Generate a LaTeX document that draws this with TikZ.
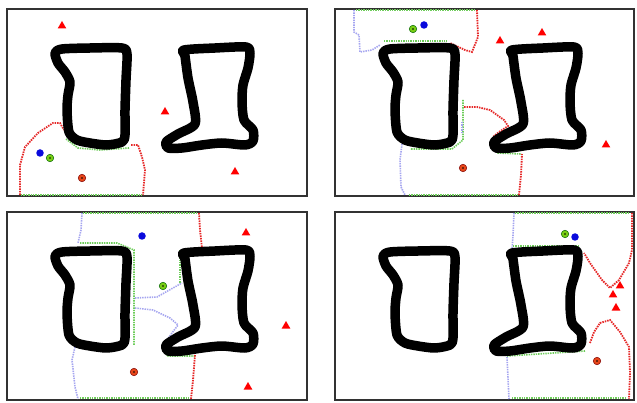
\documentclass[tikz,border=0pt]{standalone}
\usetikzlibrary{shapes.geometric}
\definecolor{framec}{RGB}{50,50,50}
\definecolor{bdred}{RGB}{230,40,40}
\definecolor{bdgreen}{RGB}{110,205,90}
\definecolor{bdblue}{RGB}{165,165,240}
\definecolor{dotgreen}{RGB}{120,205,20}
\definecolor{dotorange}{RGB}{230,70,25}
\definecolor{dotblue}{RGB}{10,10,220}
\tikzset{
  panel/.style={draw=framec, line width=1.3pt},
  obst/.style={draw=black, line width=9.5pt, line join=round, line cap=round},
  redb/.style={draw=bdred, line width=1.8pt, dash pattern=on 1.5pt off 1pt},
  greenb/.style={draw=bdgreen, line width=1.6pt, dash pattern=on 1.4pt off 1pt},
  blueb/.style={draw=bdblue, line width=1.6pt, dash pattern=on 1.4pt off 1pt},
  goal/.style={regular polygon, regular polygon sides=3, fill=red, inner sep=0pt, minimum size=10pt},
  robotb/.style={circle, fill=dotblue, inner sep=0pt, minimum size=7.5pt},
  robotg/.style={circle, fill=dotgreen, draw=green!40!black, line width=0.5pt, inner sep=0pt, minimum size=7.5pt,
    path picture={\fill[black] (path picture bounding box.center) circle (0.9pt);}},
  roboto/.style={circle, fill=dotorange, draw=red!50!black, line width=0.5pt, inner sep=0pt, minimum size=7.5pt,
    path picture={\fill[black] (path picture bounding box.center) circle (0.9pt);}},
}
\newcommand{\drawobstacles}{%
  \draw[obst] plot[smooth cycle, tension=0.45] coordinates {(55,53) (62,49) (90,48) (122,48) (127,54) (126,80) (125,110) (125,135) (122,142) (107,145) (90,143) (77,140) (69,132) (67,110) (68,95) (70,82) (65,72) (58,63)};
  \draw[obst] plot[smooth cycle, tension=0.45] coordinates {(184,50) (215,48) (246,47) (250,53) (248,68) (243,85) (242,102) (244,120) (253,130) (253,141) (245,145) (222,143) (202,145) (182,148) (168,148) (166,142) (178,134) (195,124) (193,102) (188,78) (185,56)};
}
\begin{document}
\begin{tikzpicture}[x=1pt, y=-1pt]
\useasboundingbox (0,0) rectangle (637,403);
\fill[white] (0,0) rectangle (637,403);
% frames
\draw[panel] (7,9) rectangle (307,196);
\draw[panel] (335,9) rectangle (634,196);
\draw[panel] (7,212) rectangle (307,400);
\draw[panel] (335,212) rectangle (634,400);

% ---------------- panel 1 ----------------
\draw[greenb] (21,195) -- (142,195);
\draw[greenb] (66,139) -- (78,148) -- (100,150) -- (129,148);
\draw[redb] (20,195) -- (20,165) -- (25,147) -- (38,133) -- (53,123) -- (60,123) -- (64,130);
\draw[redb] (131,145) -- (138,145) -- (142,157) -- (145,170) -- (143,195);
\drawobstacles
\node[goal] (g11) at (62,26) {};
\node[goal] (g12) at (165,112) {};
\node[goal] (g13) at (235,172) {};
\node[robotb] (b1) at (40,153) {};
\node[robotg] (c1) at (50,158) {};
\node[roboto] (o1) at (82,178) {};

% ---------------- panel 2 ----------------
\draw[greenb] (356,10) -- (475,10);
\draw[greenb] (384,41) -- (447,41);
\draw[greenb] (463,100) -- (463,140) -- (452,149) -- (410,149);
\draw[greenb] (491,140) -- (498,153) -- (521,154);
\draw[greenb] (409,195) -- (519,195);
\draw[blueb] (354,10) -- (354,32) -- (359,35) -- (360,52) -- (372,50) -- (380,45);
\draw[redb] (477,10) -- (478,37) -- (474,47) -- (472,52) -- (465,50) -- (450,43);
\draw[redb] (464,107) -- (477,107) -- (490,110) -- (504,120) -- (508,126) -- (499,132) -- (493,137);
\draw[blueb] (462,122) -- (462,134);
\draw[blueb] (402,144) -- (400,160) -- (401,187) -- (405,195);
\draw[redb] (519,195) -- (521,175) -- (522,154);
\begin{scope}[shift={(328,0)}]
\drawobstacles
\end{scope}
\node[goal] (g21) at (500,41) {};
\node[goal] (g22) at (542,33) {};
\node[goal] (g23) at (606,145) {};
\node[robotb] (b2) at (424,25) {};
\node[robotg] (c2) at (413,29) {};
\node[roboto] (o2) at (463,168) {};

% ---------------- panel 3 ----------------
\draw[greenb] (83,213) -- (197,213);
\draw[greenb] (80,243) -- (117,243) -- (134,250) -- (134,345);
\draw[greenb] (180,250) -- (180,283);
\draw[greenb] (163,345) -- (167,356) -- (195,356);
\draw[greenb] (80,398) -- (190,398);
\draw[blueb] (82,213) -- (81,230) -- (78,243);
\draw[redb] (199,213) -- (200,230) -- (202,248);
\draw[blueb] (135,298) -- (157,297) -- (173,288) -- (182,283);
\draw[blueb] (135,308) -- (153,310) -- (170,318) -- (178,325) -- (172,333) -- (167,340);
\draw[blueb] (75,347) -- (72,360) -- (75,387) -- (78,399);
\draw[redb] (195,355) -- (193,380) -- (191,399);
\begin{scope}[shift={(0,203)}]
\drawobstacles
\end{scope}
\node[goal] (g31) at (246,233) {};
\node[goal] (g32) at (286,326) {};
\node[goal] (g33) at (248,387) {};
\node[robotb] (b3) at (142,236) {};
\node[robotg] (c3) at (163,286) {};
\node[roboto] (o3) at (134,372) {};

% ---------------- panel 4 ----------------
\draw[greenb] (515,213) -- (629,213);
\draw[greenb] (513,246) -- (580,246);
\draw[greenb] (507,356) -- (585,351);
\draw[greenb] (512,398) -- (625,398);
\draw[blueb] (514,213) -- (513,235) -- (512,250);
\draw[blueb] (507,357) -- (509,399);
\draw[redb] (632,213) -- (632,250) -- (629,263) -- (619,280) -- (610,288) -- (602,280) -- (590,263) -- (584,253);
\draw[redb] (590,343) -- (594,332) -- (600,323) -- (610,320) -- (620,332) -- (629,347) -- (630,373) -- (629,399);
\begin{scope}[shift={(328,203)}]
\drawobstacles
\end{scope}
\node[goal] (g41) at (620,286) {};
\node[goal] (g42) at (613,295) {};
\node[goal] (g43) at (616,308) {};
\node[robotb] (b4) at (575,237) {};
\node[robotg] (c4) at (565,234) {};
\node[roboto] (o4) at (597,361) {};
\end{tikzpicture}
\end{document}
